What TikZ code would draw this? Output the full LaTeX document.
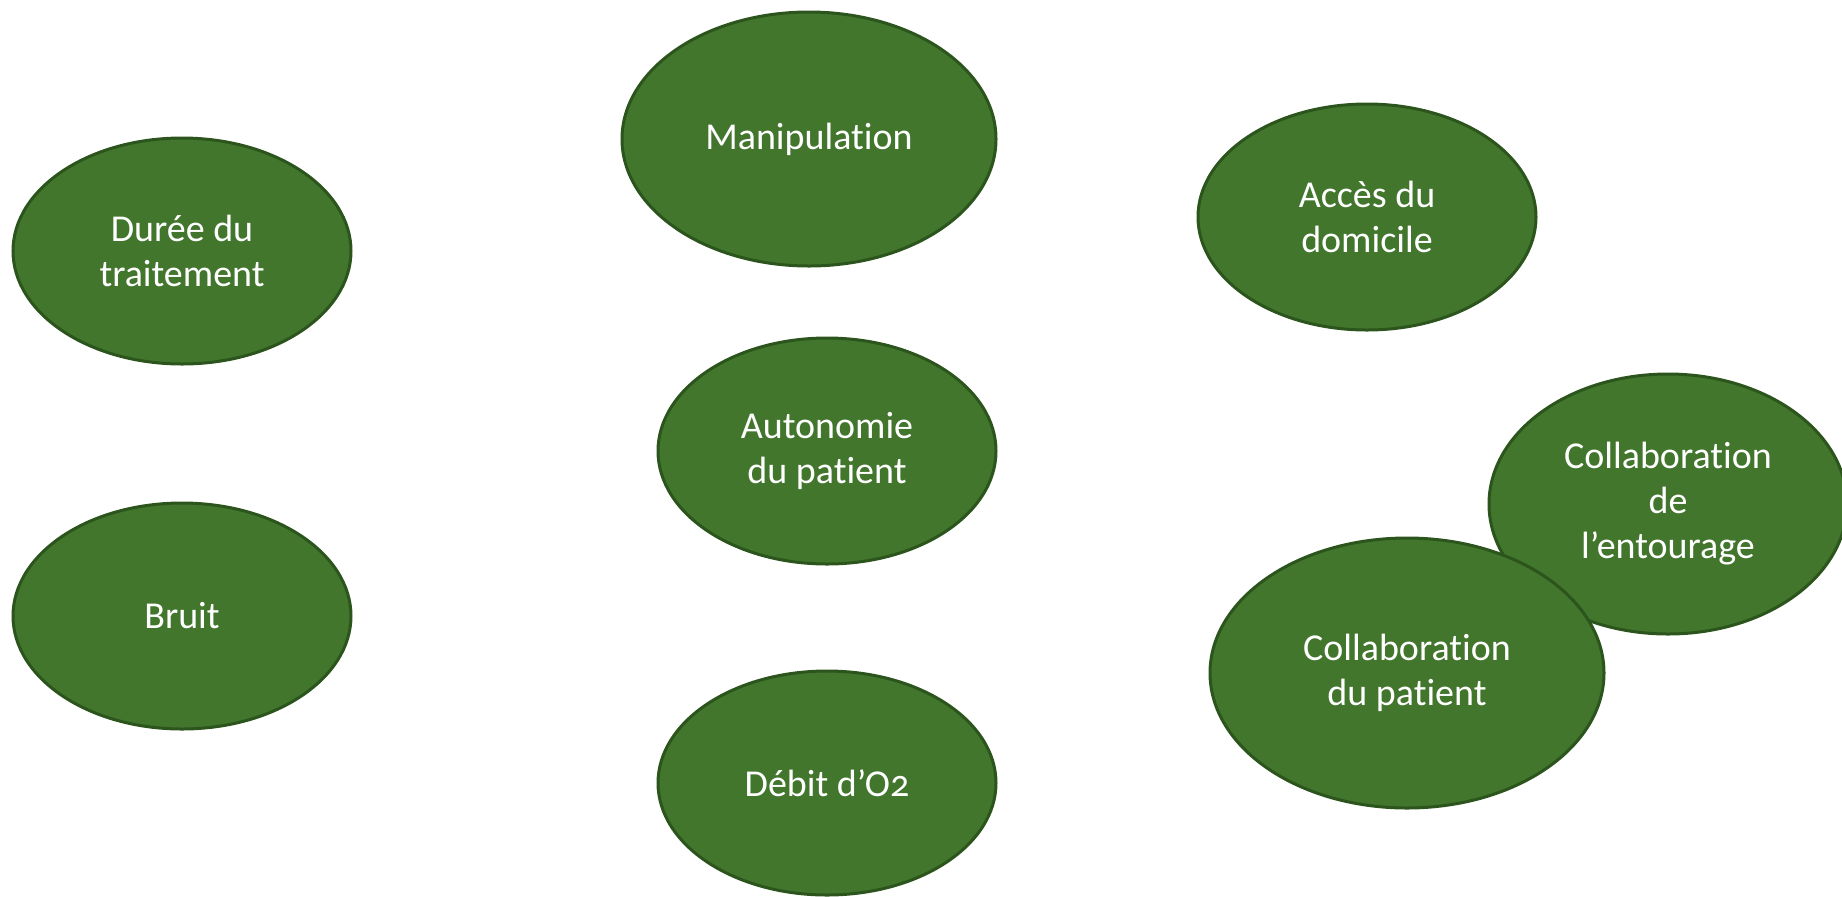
\documentclass[tikz,border=0pt]{standalone}
\usepackage{fontspec}
\setmainfont[Numbers=OldStyle, Ligatures=NoCommon]{Carlito}
\usetikzlibrary{shapes.geometric}

\definecolor{bubblefill}{RGB}{65,118,44}
\definecolor{bubbleline}{RGB}{44,84,29}

\begin{document}
\begin{tikzpicture}[
    x=0.5pt, y=-0.5pt,
    bubble/.style={ellipse, fill=bubblefill, draw=bubbleline, line width=1.5pt,
        text=white, align=center, inner sep=0pt, font=\fontsize{19}{22.5}\selectfont,
        minimum width=169pt, minimum height=113pt},
    big/.style={minimum width=187pt, minimum height=127pt}
]

% Page frame
\useasboundingbox (0,0) rectangle (1842,896);

% =========================
% Left column
% =========================
\node[bubble] (duree) at (182,251) {Durée du\\traitement};
\node[bubble] (bruit) at (182,616) {Bruit};

% =========================
% Middle column
% =========================
\node[bubble, big] (manip) at (809,139) {Manipulation};
\node[bubble] (autonomie) at (827,451) {Autonomie\\du patient};
\node[bubble, minimum height=112pt] (debit) at (827,783) {Débit d’O2};

% =========================
% Right column
% =========================
\node[bubble] (acces) at (1367,217) {Accès du\\domicile};
\node[bubble, minimum width=179pt, minimum height=130pt] (entourage) at (1668,504)
    {Collaboration\\de\\l’entourage};
\node[bubble, minimum width=197pt, minimum height=135pt] (patient) at (1407,673)
    {Collaboration\\du patient};

\end{tikzpicture}
\end{document}
